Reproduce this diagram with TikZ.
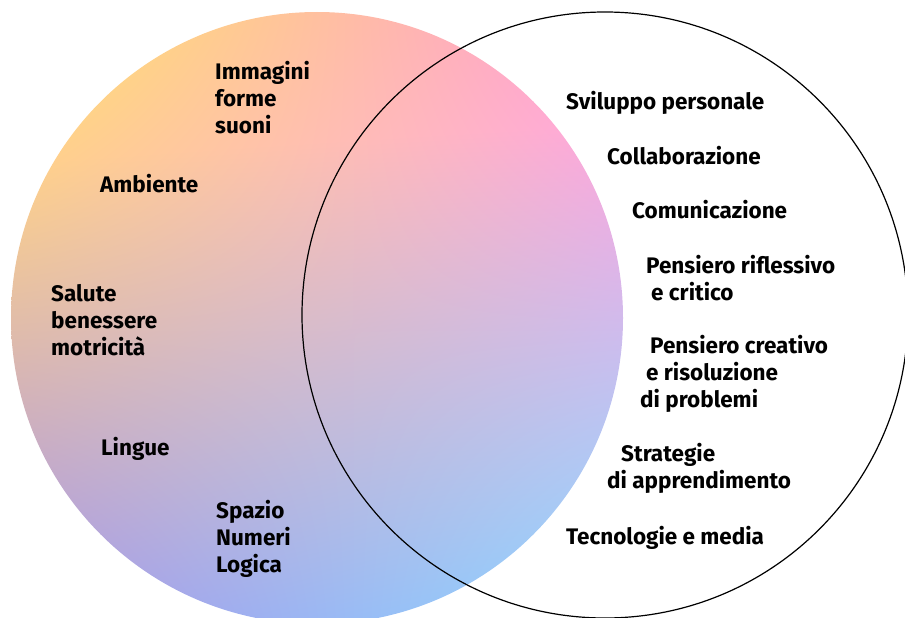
\documentclass[tikz,border=0pt]{standalone}
\usepackage{fontspec}
\setmainfont{Fira Sans}
\pgfdeclarefunctionalshading{venn}{\pgfpoint{0bp}{0bp}}{\pgfpoint{100bp}{100bp}}{}{
 75 exch sub 50 div exch 25 sub 50 div exch
 2 copy 2 copy mul -0.110 mul exch -0.450 mul add exch -0.0094 mul add 1.111 add
 dup 1 gt {pop 1} if dup 0 lt {pop 0} if
 3 1 roll
 2 copy 2 copy mul 0.576 mul exch -0.322 mul add exch -0.300 mul add 0.903 add
 dup 1 gt {pop 1} if dup 0 lt {pop 0} if
 3 1 roll
 2 copy mul -0.325 mul exch 0.496 mul add exch 0.429 mul add 0.41 add
 dup 1 gt {pop 1} if dup 0 lt {pop 0} if
}
\tikzset{
  lbl/.style={inner sep=0pt, anchor=west, align=left, font=\bfseries\fontsize{22.5}{27}\selectfont},
  outline/.style={draw=black, line width=1.2pt}
}
\begin{document}
\begin{tikzpicture}[x=1pt,y=-1pt]
\useasboundingbox (0,0) rectangle (905,618);
\shade[shading=venn] (317,318) circle[radius=306pt];
\draw[outline] (605,315) circle[radius=303pt];
\node[lbl] (imm) at (215,98) {Immagini\\forme\\suoni};
\node[lbl] (amb) at (100,184) {Ambiente};
\node[lbl] (sal) at (51,320) {Salute\\benessere\\motricità};
\node[lbl] (lin) at (101,449) {Lingue};
\node[lbl] (spa) at (216,539) {Spazio\\Numeri\\Logica};
\node[lbl] (svi) at (566,103) {Sviluppo personale};
\node[lbl] (col) at (607,156) {Collaborazione};
\node[lbl] (com) at (632,210) {Comunicazione};
\node[lbl] (pr) at (646,278) {Pensiero riflessivo\\\hspace*{5pt}e critico};
\node[lbl] (pc) at (640,374) {\hspace*{10pt}Pensiero creativo\\\hspace*{6pt}e risoluzione\\di problemi};
\node[lbl] (str) at (607,468) {\hspace*{14pt}Strategie\\di apprendimento};
\node[lbl] (tec) at (566,538) {Tecnologie e media};
\end{tikzpicture}
\end{document}
